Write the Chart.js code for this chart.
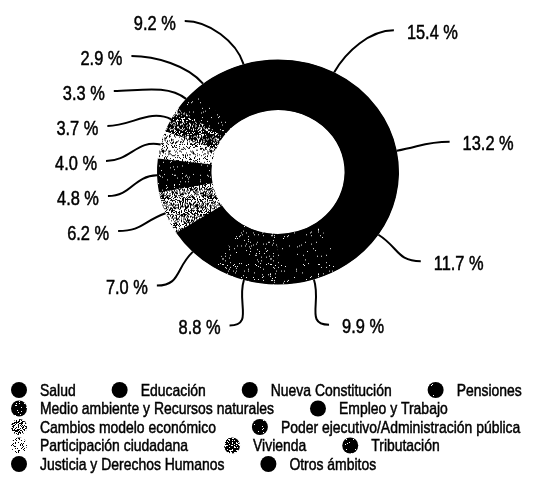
<!DOCTYPE html>
<html lang="es">
<head>
<meta charset="utf-8">
<title>Ámbitos</title>
<script src="https://cdn.jsdelivr.net/npm/chart.js@4.4.1/dist/chart.umd.min.js"></script>
<style>
  html, body { margin: 0; padding: 0; background: #fff; }
  #wrap { width: 544px; height: 482px; }
</style>
</head>
<body>
<div id="wrap"><canvas id="chart" width="544" height="482"></canvas></div>
<script>
// Datos
const categories = ['Salud', 'Educación', 'Nueva Constitución', 'Pensiones',
    'Medio ambiente y Recursos naturales', 'Empleo y Trabajo', 'Cambios modelo económico',
    'Poder ejecutivo/Administración pública', 'Participación ciudadana', 'Vivienda',
    'Tributación', 'Justicia y Derechos Humanos', 'Otros ámbitos'];
const shares = [15.4, 13.2, 11.7, 9.9, 8.8, 7.0, 6.2, 4.8, 4.0, 3.7, 3.3, 2.9, 9.2];
// fraction of white specks in each slice's texture
const speckle = [0, 0, 0, 0.02, 0.05, 0, 0.55, 0.03, 0.78, 0.25, 0.03, 0, 0];

const FONT = "'Liberation Sans', Arial, sans-serif";
const NARROW = 0.82;   // condensed look
const SQUASH = 0.93;

const canvas = document.getElementById('chart');
const mainCtx = canvas.getContext('2d');

// speckled texture, deterministic hash
function makePattern(density) {
    if (density === 0) return '#000';
    const c = document.createElement('canvas');
    c.width = 48; c.height = 48;
    const g = c.getContext('2d');
    const img = g.createImageData(48, 48);
    for (let y = 0; y < 48; y++) {
        for (let x = 0; x < 48; x++) {
            let h = Math.imul((x * 73856093) ^ (y * 19349663), 0x5bd1e995);
            h ^= h >>> 13; h = Math.imul(h, 0x5bd1e995); h ^= h >>> 15;
            const v = ((h >>> 0) % 1000) / 1000 < density ? 255 : 0;
            const i = (y * 48 + x) * 4;
            img.data[i] = img.data[i + 1] = img.data[i + 2] = v;
            img.data[i + 3] = 255;
        }
    }
    g.putImageData(img, 0, 0);
    return mainCtx.createPattern(c, 'repeat');
}

// condensed, slightly heavier text
function narrowText(ctx, text, x, y, align) {
    ctx.save();
    ctx.translate(x, y);
    ctx.scale(NARROW, 1);
    ctx.textAlign = align;
    ctx.lineWidth = 0.5;
    ctx.strokeStyle = ctx.fillStyle;
    ctx.fillText(text, 0, 0);
    ctx.strokeText(text, 0, 0);
    ctx.restore();
}

// slightly flattened ring, black underlay hides seams
const squashRing = {
    id: 'squashRing',
    beforeDatasetsDraw(chart) {
        const arc = chart.getDatasetMeta(0).data[0];
        const ctx = chart.ctx;
        ctx.save();
        ctx.translate(arc.x, arc.y);
        ctx.scale(1, SQUASH);
        ctx.translate(-arc.x, -arc.y);
        ctx.beginPath();
        ctx.arc(arc.x, arc.y, arc.outerRadius - 0.5, 0, Math.PI * 2);
        ctx.arc(arc.x, arc.y, arc.innerRadius + 0.5, 0, Math.PI * 2, true);
        ctx.fillStyle = '#000';
        ctx.fill();
    },
    afterDatasetsDraw(chart) {
        chart.ctx.restore();
    }
};

// labels with curved leader lines
const leaderLabels = {
    id: 'leaderLabels',
    afterDatasetsDraw(chart) {
        const ctx = chart.ctx;
        const arcs = chart.getDatasetMeta(0).data;
        const cx = arcs[0].x, cy = arcs[0].y, R = arcs[0].outerRadius;
        const rx = R + 51, ry = R + 39;
        const items = arcs.map((arc, i) => {
            const mid = (arc.startAngle + arc.endAngle) / 2;
            const c = Math.cos(mid), s = Math.sin(mid);
            return { i, c, s, left: c < 0, ax: cx + c * R, ay: cy + s * R * SQUASH, y: cy + s * ry };
        });

        [true, false].forEach(side => {
            const group = items.filter(d => d.left === side).sort((a, b) => a.y - b.y);
            let prev = -Infinity;
            group.forEach(d => {
                d.y = Math.max(d.y, prev + 35, cy - R - 30);
                prev = d.y;
            });
        });

        ctx.save();
        ctx.strokeStyle = '#000';
        ctx.fillStyle = '#000';
        ctx.lineWidth = 2;
        ctx.font = '20px ' + FONT;
        ctx.textBaseline = 'middle';
        items.forEach(d => {
            const dy = d.y - cy;
            const t = Math.min(Math.abs(dy) / ry, 1);
            const k = dy < 0 ? Math.cbrt(1 - t * t * t) : Math.sqrt(1 - t * t);
            const ex = cx + (d.left ? -1 : 1) * rx * k;
            const ey = d.y;
            const len = Math.hypot(d.c, d.s * SQUASH);
            const ux = d.c / len, uy = d.s * SQUASH / len;

            ctx.beginPath();
            ctx.moveTo(d.ax, d.ay);
            ctx.bezierCurveTo(d.ax + ux * 24, d.ay + uy * 24, ex + (d.left ? 24 : -24), ey, ex, ey);
            ctx.stroke();

            const txt = shares[d.i].toFixed(1) + ' %';
            narrowText(ctx, txt, ex + (d.left ? -9 : 13), ey + 3, d.left ? 'right' : 'left');
        });
        ctx.restore();
    }
};

// flowing legend
const flowLegend = {
    id: 'flowLegend',
    afterDraw(chart) {
        const ctx = chart.ctx;
        const bg = chart.data.datasets[0].backgroundColor;
        ctx.save();
        ctx.font = '17px ' + FONT;
        ctx.textBaseline = 'middle';
        const left = 11, dot = 16, gapText = 13, gapItem = 36, rowH = 18.5;
        let x = left, y = 390;
        chart.data.labels.forEach((label, i) => {
            const w = dot + gapText + ctx.measureText(label).width * NARROW;
            if (x > left && x + w > chart.width - 2) { x = left; y += rowH; }
            ctx.fillStyle = bg[i];
            ctx.beginPath();
            ctx.arc(x + dot / 2, y, dot / 2, 0, Math.PI * 2);
            ctx.fill();
            ctx.fillStyle = '#000';
            narrowText(ctx, label, x + dot + gapText, y + 1, 'left');
            x += w + gapItem;
        });
        ctx.restore();
    }
};

new Chart(canvas, {
    type: 'doughnut',
    data: {
        labels: categories,
        datasets: [{
            data: shares,
            backgroundColor: speckle.map(makePattern),
            borderWidth: 0,
            hoverOffset: 0
        }]
    },
    options: {
        responsive: false,
        animation: false,
        devicePixelRatio: 1,
        cutout: '55%',
        layout: { padding: { left: 157, right: 145, top: 51, bottom: 189 } },
        plugins: {
            legend: { display: false },
            tooltip: { enabled: false }
        }
    },
    plugins: [squashRing, leaderLabels, flowLegend]
});
</script>
</body>
</html>
